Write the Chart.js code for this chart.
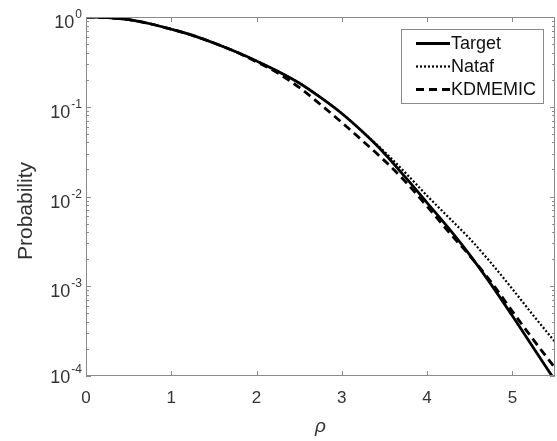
<!DOCTYPE html>
<html>
<head>
<meta charset="utf-8">
<script src="https://cdn.jsdelivr.net/npm/chart.js@4/dist/chart.umd.min.js"></script>
<style>
  html, body { margin: 0; padding: 0; background: #fff; }
  #wrap { width: 557px; height: 441px; }
</style>
</head>
<body>
<div id="wrap"><canvas id="probChart" width="557" height="441"></canvas></div>
<script>
// values
const rho = [0, 0.25, 0.5, 0.75, 1, 1.25, 1.5, 1.75, 2, 2.25, 2.5, 2.75, 3,
             3.25, 3.5, 3.75, 4, 4.25, 4.5, 4.75, 5, 5.25, 5.5];
const target = [1, 0.982, 0.933, 0.841, 0.730, 0.624, 0.513, 0.412, 0.324, 0.248, 0.184, 0.127, 0.0841,
                0.0519, 0.0302, 0.0162, 0.00851, 0.00447, 0.00224, 0.00105, 0.000468, 0.000204, 0.0000891];
const nataf = [1, 0.982, 0.933, 0.841, 0.730, 0.624, 0.513, 0.412, 0.324, 0.248, 0.184, 0.127, 0.0841,
               0.0519, 0.0316, 0.0182, 0.0102, 0.00589, 0.00339, 0.00182, 0.000933, 0.000468, 0.000240];
const kdmemic = [1, 0.982, 0.933, 0.841, 0.730, 0.624, 0.513, 0.412, 0.316, 0.237, 0.164, 0.106, 0.0668,
                 0.0412, 0.0251, 0.0145, 0.00776, 0.00407, 0.00219, 0.00112, 0.000525, 0.000251, 0.000123];
const seriesNames = ['Target', 'Nataf', 'KDMEMIC'];
const xTicks = [0, 1, 2, 3, 4, 5];
const yTicks = [1, 0.1, 0.01, 0.001, 0.0001];
const yTickExp = ['0', '-1', '-2', '-3', '-4'];

const axisColor = '#8a8a8a';
const textColor = '#333';
const fontName = '"Liberation Sans", Arial, sans-serif';

function pts(ys) {
  return rho.map((x, i) => ({ x: x, y: ys[i] }));
}

// box, inward ticks, labels and legend in the MATLAB style
const axesPlugin = {
  id: 'matlabAxes',
  afterDraw(chart) {
    const ctx = chart.ctx;
    const a = chart.chartArea;
    const xs = chart.scales.x;
    const ys = chart.scales.y;
    ctx.save();

    ctx.strokeStyle = axisColor;
    ctx.lineWidth = 1;
    ctx.strokeRect(a.left + 0.5, a.top + 0.5, a.right - a.left - 1, a.bottom - a.top - 1);

    ctx.beginPath();
    xTicks.forEach(v => {
      const px = Math.round(xs.getPixelForValue(v)) + 0.5;
      ctx.moveTo(px, a.bottom); ctx.lineTo(px, a.bottom - 5);
      ctx.moveTo(px, a.top); ctx.lineTo(px, a.top + 5);
    });
    for (let e = 0; e > -4; e--) {
      for (let k = 1; k <= 9; k++) {
        const v = k * Math.pow(10, e - 1);
        const py = Math.round(ys.getPixelForValue(v)) + 0.5;
        const len = k === 1 ? 5 : 3;
        ctx.moveTo(a.left, py); ctx.lineTo(a.left + len, py);
        ctx.moveTo(a.right, py); ctx.lineTo(a.right - len, py);
      }
    }
    ctx.stroke();

    ctx.fillStyle = textColor;
    ctx.font = '17px ' + fontName;
    ctx.textAlign = 'center';
    ctx.textBaseline = 'alphabetic';
    xTicks.forEach(v => {
      ctx.fillText(String(v), xs.getPixelForValue(v), a.bottom + 27);
    });

    ctx.textAlign = 'left';
    yTicks.forEach((v, i) => {
      const py = ys.getPixelForValue(v);
      ctx.font = '18px ' + fontName;
      const wTen = ctx.measureText('10').width;
      ctx.font = '12px ' + fontName;
      const wExp = ctx.measureText(yTickExp[i]).width;
      const x0 = 81 - wTen - wExp;
      const base = i === yTicks.length - 1 ? py + 7 : py + 11;
      ctx.font = '18px ' + fontName;
      ctx.fillText('10', x0, base);
      ctx.font = '12px ' + fontName;
      ctx.fillText(yTickExp[i], x0 + wTen + 1, base - 10);
    });

    ctx.save();
    ctx.translate(26, 211);
    ctx.rotate(-Math.PI / 2);
    ctx.textAlign = 'center';
    ctx.textBaseline = 'middle';
    ctx.font = '21px ' + fontName;
    ctx.fillText('Probability', 0, 0);
    ctx.restore();

    ctx.textAlign = 'center';
    ctx.font = 'italic 19px ' + fontName;
    ctx.fillText('\u03C1', (a.left + a.right) / 2, 432);

    // legend
    ctx.fillStyle = '#fff';
    ctx.fillRect(402, 30, 141, 73);
    ctx.strokeStyle = axisColor;
    ctx.strokeRect(401.5, 29.5, 142, 74);
    chart.data.datasets.forEach((ds, i) => {
      const y = 43.5 + i * 23;
      ctx.beginPath();
      ctx.strokeStyle = ds.borderColor;
      ctx.lineWidth = ds.borderWidth;
      ctx.setLineDash(ds.borderDash || []);
      ctx.moveTo(416, y); ctx.lineTo(450, y);
      ctx.stroke();
      ctx.setLineDash([]);
      ctx.fillStyle = '#111';
      ctx.font = '18px ' + fontName;
      ctx.textAlign = 'left';
      ctx.textBaseline = 'middle';
      ctx.fillText(ds.label, 451, y + 1);
    });
    ctx.restore();
  }
};

new Chart(
  document.getElementById('probChart'),
  {
    type: 'line',
    data: {
      datasets: [
        { label: seriesNames[0], data: pts(target), borderColor: '#000', borderWidth: 2.8, borderDash: [] },
        { label: seriesNames[1], data: pts(nataf), borderColor: '#000', borderWidth: 2.2, borderDash: [2, 2] },
        { label: seriesNames[2], data: pts(kdmemic), borderColor: '#000', borderWidth: 2.8, borderDash: [8, 5] }
      ]
    },
    options: {
      responsive: false,
      maintainAspectRatio: false,
      animation: false,
      layout: { padding: { left: 0, top: 17, right: 2, bottom: 0 } },
      elements: {
        point: { radius: 0 },
        line: { tension: 0.4, cubicInterpolationMode: 'monotone', fill: false }
      },
      plugins: { legend: { display: false }, tooltip: { enabled: false } },
      scales: {
        x: {
          type: 'linear', min: 0, max: 5.5,
          grid: { display: false }, border: { display: false },
          ticks: { display: false },
          afterFit(s) { s.height = 65; }
        },
        y: {
          type: 'logarithmic', min: 0.0001, max: 1,
          grid: { display: false }, border: { display: false },
          ticks: { display: false },
          afterFit(s) { s.width = 86; }
        }
      }
    },
    plugins: [axesPlugin]
  }
);
</script>
</body>
</html>
